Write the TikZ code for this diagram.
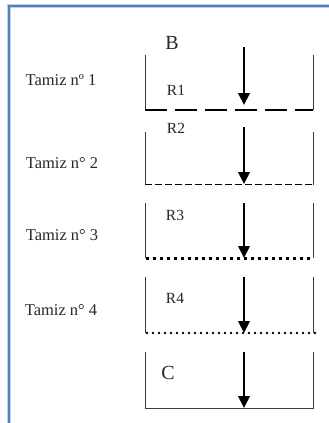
\documentclass[tikz,border=0pt]{standalone}
\usepackage{fontspec}
\setmainfont{Liberation Serif}
\usetikzlibrary{arrows.meta}
\definecolor{framebl}{RGB}{79,129,189}
\definecolor{framelt}{RGB}{190,208,232}
\definecolor{wallgr}{RGB}{60,60,60}
\definecolor{txtgr}{RGB}{40,40,40}
\tikzset{
  wall/.style={draw=wallgr, line width=0.8pt},
  flow/.style={line width=2.2pt, -{Triangle[length=12pt,width=11.5pt]}, shorten >=0pt},
  sievename/.style={font=\fontsize{16.5}{18}\selectfont, text=txtgr, inner sep=0pt},
  reslabel/.style={font=\fontsize{15.5}{17}\selectfont, text=txtgr, inner sep=0pt},
  biglabel/.style={font=\fontsize{20}{22}\selectfont, text=txtgr, inner sep=0pt},
  sieveA/.style={line width=2pt, dash pattern=on 22pt off 8pt},
  sieveB/.style={line width=1.4pt, dash pattern=on 6.5pt off 3.5pt},
  sieveC/.style={line width=3pt, dash pattern=on 3pt off 4pt},
  sieveD/.style={line width=2.8pt, line cap=round, dash pattern=on 0pt off 6pt},
}
\begin{document}
\begin{tikzpicture}[x=1pt, y=-1pt]
\useasboundingbox (0,0) rectangle (329,423);
\fill[white] (0,0) rectangle (329,423);
% blue frame (left and top edges)
\draw[framelt, line width=4pt] (8.5,423) -- (8.5,5.5) -- (329,5.5);
\draw[framebl, line width=2pt] (8.5,423) -- (8.5,5.5) -- (329,5.5);

% sieve names
\node[sievename] (t1) at (61,80) {Tamiz nº 1};
\node[sievename] (t2) at (62,163) {Tamiz n° 2};
\node[sievename] (t3) at (62,235) {Tamiz n° 3};
\node[sievename] (t4) at (61,310) {Tamiz n° 4};

% compartment labels
\node[biglabel] (lb) at (172,43) {B};
\node[reslabel] (r1) at (176,90) {R1};
\node[reslabel] (r2) at (176,128) {R2};
\node[reslabel] (r3) at (175,215) {R3};
\node[reslabel] (r4) at (175,298) {R4};
\node[biglabel] (lc) at (168,373) {C};

% compartment 1: walls and coarse mesh
\draw[wall] (145,55) -- (145,110);
\draw[wall] (313,55) -- (313,110);
\draw[sieveA] (145,110) -- (313,110);
% compartment 2
\draw[wall] (145,132) -- (145,185);
\draw[wall] (313,132) -- (313,185);
\draw[sieveB] (145,184.5) -- (313,184.5);
% compartment 3
\draw[wall] (145,203) -- (145,258);
\draw[wall] (313,203) -- (313,258);
\draw[sieveC] (146,258) -- (313,258);
% compartment 4
\draw[wall] (145,277) -- (145,333);
\draw[wall] (313,277) -- (313,333);
\draw[sieveD] (147,333) -- (316,333);
% collector C
\draw[wall] (145,352) -- (145,408) -- (313,408) -- (313,352);

% flow arrows
\coordinate (a1s) at (244,47);  \coordinate (a1e) at (244,105);
\coordinate (a2s) at (244,127); \coordinate (a2e) at (244,184);
\coordinate (a3s) at (244,203); \coordinate (a3e) at (244,258);
\coordinate (a4s) at (244,277); \coordinate (a4e) at (244,333);
\coordinate (a5s) at (244,352); \coordinate (a5e) at (244,408);
\draw[flow] (a1s) -- (a1e);
\draw[flow] (a2s) -- (a2e);
\draw[flow] (a3s) -- (a3e);
\draw[flow] (a4s) -- (a4e);
\draw[flow] (a5s) -- (a5e);
\end{tikzpicture}
\end{document}
